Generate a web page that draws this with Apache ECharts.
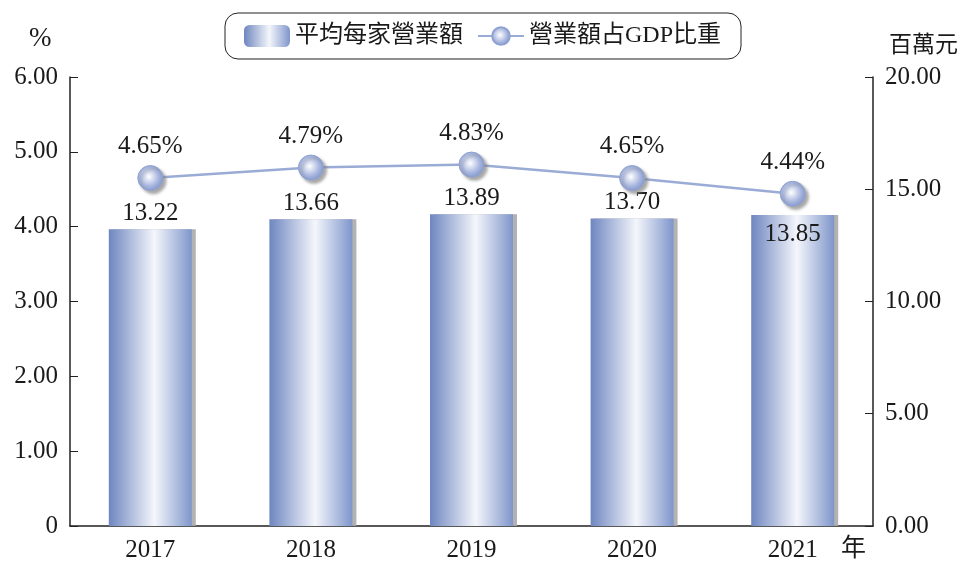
<!DOCTYPE html>
<html lang="zh-Hant">
<head>
    <meta charset="UTF-8">
    <title>平均每家營業額</title>
    <script src="https://cdn.jsdelivr.net/npm/echarts@6/dist/echarts.min.js"></script>
    <style>
        html, body { margin: 0; padding: 0; background: #fff; }
    </style>
</head>
<body>
    <div id="main" style="width: 961px;height:563px;"></div>
</body>
<script type="text/javascript">

    // 資料
    var years = ['2017', '2018', '2019', '2020', '2021'];
    var avgRevenue = [13.22, 13.66, 13.89, 13.70, 13.85];   // 百萬元
    var gdpShare = [4.65, 4.79, 4.83, 4.65, 4.44];          // %

    var serif = '"Liberation Serif", "Times New Roman", "Noto Sans CJK TC", serif';
    var textColor = '#1a1a1a';

    var barGradient = new echarts.graphic.LinearGradient(0, 0, 1, 0, [
        { offset: 0, color: '#6e86c0' },
        { offset: 0.55, color: '#f4f6fb' },
        { offset: 1, color: '#7f96cb' }
    ]);
    var dotGradient = new echarts.graphic.RadialGradient(0.45, 0.45, 0.6, [
        { offset: 0, color: '#ffffff' },
        { offset: 0.6, color: '#a9b7df' },
        { offset: 1, color: '#7c92c9' }
    ]);

    var myChart = echarts.init(document.getElementById('main'));
    var option = {
        animation: false,
        textStyle: { fontFamily: serif, color: textColor },
        legend: {
            top: 13,
            left: 225,
            padding: [11, 20, 11, 19],
            itemGap: 14,
            itemWidth: 46,
            itemHeight: 22,
            borderColor: '#222',
            borderWidth: 1,
            borderRadius: 13,
            textStyle: { fontSize: 24, fontFamily: serif, color: textColor },
            data: ['平均每家營業額', '營業額占GDP比重']
        },
        grid: { left: 70, right: 88, top: 77, bottom: 36, containLabel: false },
        xAxis: {
            type: 'category',
            data: years,
            axisLine: { lineStyle: { color: '#222', width: 1.5 } },
            axisTick: { inside: true, length: 15, lineStyle: { color: '#222' } },
            axisLabel: { fontSize: 25, color: textColor, margin: 12 }
        },
        yAxis: [
            {
                type: 'value',
                min: 0, max: 6, interval: 1,
                axisLine: { show: true, lineStyle: { color: '#222', width: 1.5 } },
                axisTick: { show: true, inside: true, length: 8, lineStyle: { color: '#222' } },
                axisLabel: {
                    fontSize: 25, color: textColor, margin: 12,
                    formatter: function (v) { return v === 0 ? '0' : v.toFixed(2); }
                },
                splitLine: { show: false }
            },
            {
                type: 'value',
                min: 0, max: 20, interval: 5,
                axisLine: { show: true, lineStyle: { color: '#222', width: 1.5 } },
                axisTick: { show: true, inside: true, length: 8, lineStyle: { color: '#222' } },
                axisLabel: {
                    fontSize: 25, color: textColor, margin: 12,
                    formatter: function (v) { return v.toFixed(2); }
                },
                splitLine: { show: false }
            }
        ],
        graphic: [
            { type: 'text', left: 29, top: 25, style: { text: '%', font: '27px ' + serif, fill: textColor } },
            { type: 'text', left: 889, top: 34, style: { text: '百萬元', font: '23px ' + serif, fill: textColor } },
            { type: 'text', left: 841, top: 537, style: { text: '年', font: '25px ' + serif, fill: textColor } }
        ],
        series: [
            {
                name: '平均每家營業額',
                type: 'bar',
                yAxisIndex: 1,
                barWidth: 83,
                data: avgRevenue.map(function (v, i) {
                    var d = { value: v };
                    if (i === avgRevenue.length - 1) {
                        d.label = { position: 'insideTop', distance: 7 };
                    }
                    return d;
                }),
                itemStyle: {
                    color: barGradient,
                    shadowColor: 'rgba(170,170,170,0.9)',
                    shadowOffsetX: 4,
                    shadowOffsetY: 0,
                    shadowBlur: 0
                },
                label: {
                    show: true,
                    position: 'top',
                    distance: 3,
                    fontSize: 25,
                    color: textColor,
                    fontFamily: serif,
                    formatter: function (p) { return p.value.toFixed(2); }
                }
            },
            {
                name: '營業額占GDP比重',
                type: 'line',
                yAxisIndex: 0,
                data: gdpShare,
                symbol: 'circle',
                symbolSize: 25,
                lineStyle: { color: '#9aabd6', width: 2.5 },
                itemStyle: {
                    color: dotGradient,
                    borderColor: '#8ea2d2',
                    borderWidth: 1,
                    shadowColor: 'rgba(130,130,130,0.7)',
                    shadowOffsetX: 3,
                    shadowOffsetY: 3,
                    shadowBlur: 3
                },
                label: {
                    show: true,
                    position: 'top',
                    distance: 6,
                    fontSize: 25,
                    color: textColor,
                    fontFamily: serif,
                    formatter: function (p) { return p.value.toFixed(2) + '%'; }
                },
                z: 5
            }
        ]
    };
    myChart.setOption(option);

</script>
</html>
